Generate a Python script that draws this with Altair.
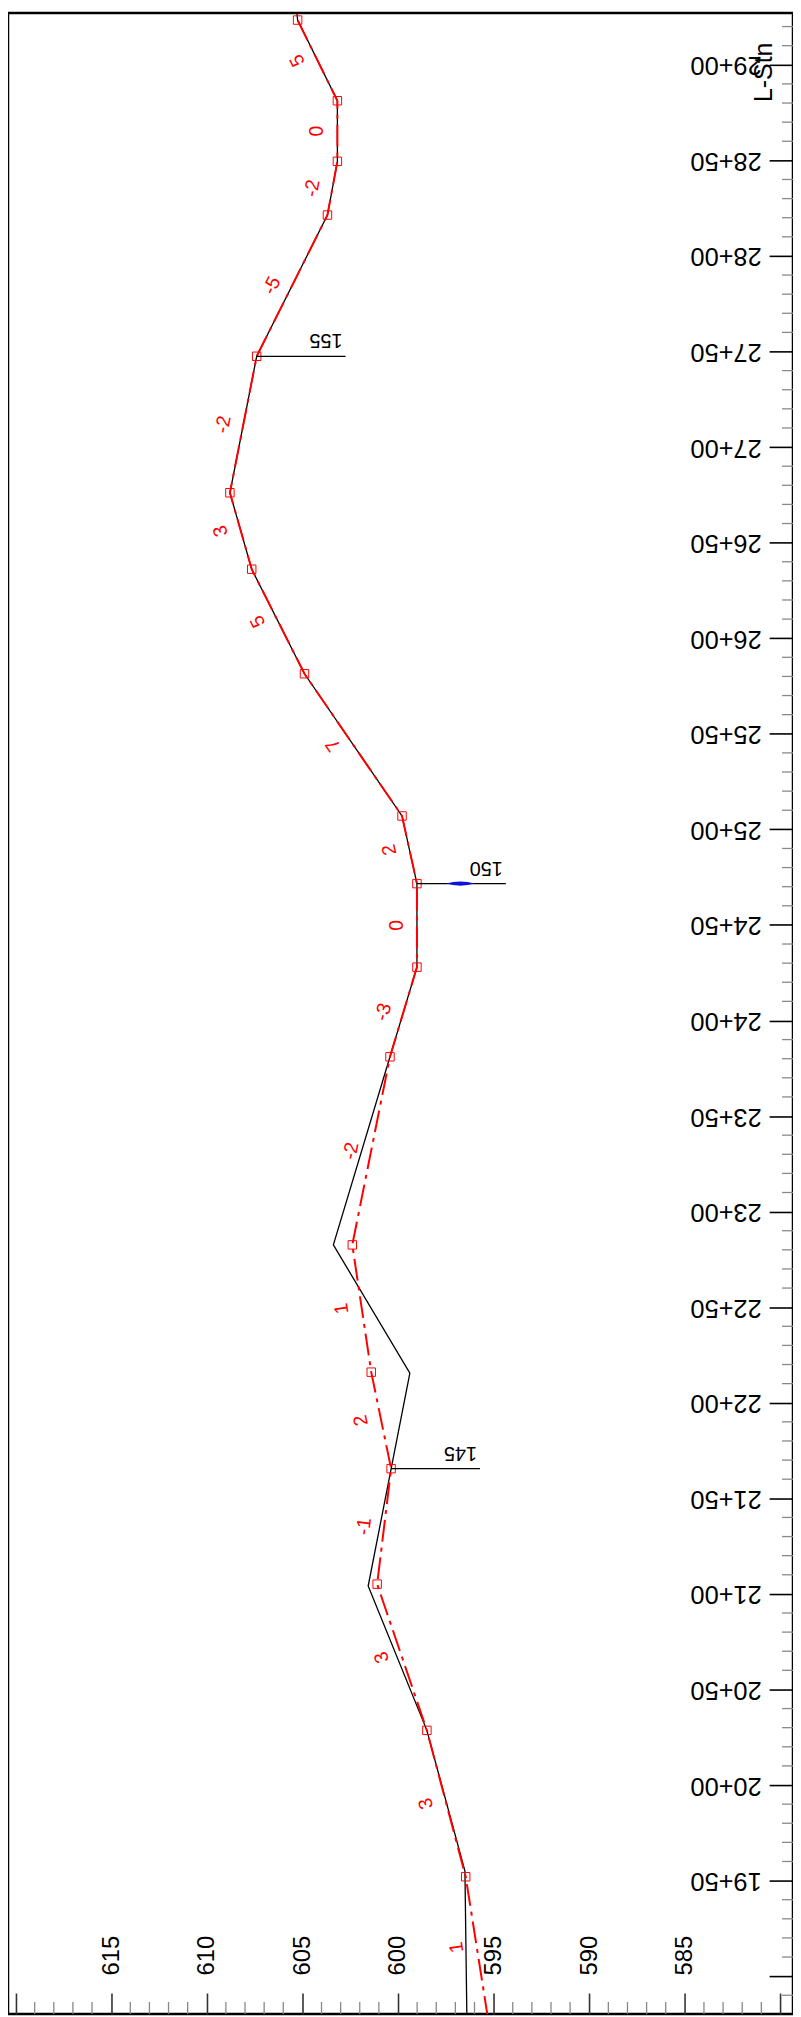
import math
import altair as alt
import pandas as pd

# ---------------- data ----------------
# proposed profile: PVI stations (ft) and elevations
prop_sta = [1878.2, 1952.0, 2028.6, 2105.1, 2165.5, 2216.0, 2282.6, 2381.0, 2427.9,
            2471.6, 2507.0, 2581.4, 2636.1, 2676.1, 2747.5, 2821.4, 2849.5, 2881.2, 2923.4]
prop_elev = [595.30, 596.46, 598.49, 601.09, 600.36, 601.40, 602.39, 600.42, 599.01,
             599.01, 599.79, 604.89, 607.65, 608.79, 607.39, 603.69, 603.17, 603.17, 605.25]
# grade labels for each segment (bottom to top)
grade_text = ["1", "3", "3", "-1", "2", "1", "-2", "-3", "0", "2", "7", "5", "3",
              "-2", "-5", "-2", "0", "5"]

# existing ground
ground_sta = [1879.7, 1955.0, 2028.6, 2104.1, 2215.5, 2282.6, 2381.0, 2427.9, 2471.6,
              2507.0, 2581.4, 2636.1, 2676.1, 2747.5, 2821.4, 2849.5, 2881.2, 2923.4, 2929.6]
ground_elev = [596.40, 596.50, 598.49, 601.56, 599.38, 603.38, 600.42, 599.01, 599.01,
               599.79, 604.89, 607.65, 608.79, 607.39, 603.69, 603.17, 603.17, 605.25, 605.31]

# station call-outs
ann_sta = [2165.5, 2471.6, 2747.5]
ann_elev = [600.36, 599.01, 607.39]
ann_text = ["145", "150", "155"]
ann_len = 4.65
blue_sta = [2471.6]
blue_elev = [596.74]

# axis ticks
sta_major = list(range(1900, 2901, 50))
sta_minor = [s for s in range(1890, 2921, 10) if s % 50]
elev_major = list(range(580, 621, 5))
elev_minor = [e for e in range(581, 620) if e % 5]

# ---------------- frame ----------------
W, H = 789, 2011
E_LEFT, E_RIGHT = 620.395, 579.344
S_BOT, S_TOP = 1880.25, 2927.05
PX_E = W / (E_LEFT - E_RIGHT)
PX_S = H / (S_TOP - S_BOT)
FONT = "Liberation Sans"
LABEL_OFF = 1.05  # grade labels sit this much "above" (left of) the line

xs = alt.Scale(domain=[E_RIGHT, E_LEFT], reverse=True, nice=False, zero=False)
ys = alt.Scale(domain=[S_BOT, S_TOP], nice=False, zero=False)

x_axis = alt.Axis(orient="bottom", values=elev_major, offset=-21, tickSize=21,
                  tickWidth=1.6, tickColor="#333333", domain=False, grid=False, title=None,
                  labelExpr="datum.value >= 620 || datum.value <= 580 ? '' : datum.label",
                  labelAngle=270, labelAlign="left", labelBaseline="middle",
                  labelPadding=-39, labelFontSize=24, labelFont=FONT, labelColor="black",
                  labelOverlap=False, labelFlush=False)
y_axis = alt.Axis(orient="right", values=sta_major, offset=-24, tickSize=24,
                  tickWidth=1.6, tickColor="black", domain=False, grid=False,
                  title="L-Stn", titleAngle=270, titleX=-6, titleY=59, titleAlign="center",
                  titleBaseline="middle", titleFontSize=25, titleFont=FONT,
                  titleFontWeight="normal", titleColor="black",
                  labelExpr="datum.value < 1950 ? '' : floor(datum.value/100) + '+' + "
                            "(datum.value % 100 < 10 ? '0' : '') + (datum.value % 100)",
                  labelAngle=180, labelAlign="left", labelBaseline="middle",
                  labelPadding=-32, labelFontSize=25.5, labelFont=FONT, labelColor="black",
                  labelOverlap=False, labelFlush=False)

prop_df = pd.DataFrame({"sta": prop_sta, "elev": prop_elev, "i": range(len(prop_sta))})
ground_df = pd.DataFrame({"sta": ground_sta, "elev": ground_elev, "i": range(len(ground_sta))})

rows = []
for k, t in enumerate(grade_text):
    s1, s2 = prop_sta[k], prop_sta[k + 1]
    e1, e2 = prop_elev[k], prop_elev[k + 1]
    ang = math.degrees(math.atan2(-(s2 - s1) * PX_S, -(e2 - e1) * PX_E)) % 360
    rows.append({"sta": (s1 + s2) / 2, "elev": (e1 + e2) / 2 + LABEL_OFF, "txt": t, "ang": ang})
grade_df = pd.DataFrame(rows)

ann_df = pd.DataFrame({"sta": ann_sta, "elev": ann_elev, "txt": ann_text})
ann_df["elev_end"] = ann_df["elev"] - ann_len
blue_df = pd.DataFrame({"sta": blue_sta, "elev": blue_elev})

elev_minor_df = pd.DataFrame({"elev": elev_minor})
elev_minor_df["s1"] = S_BOT
elev_minor_df["s2"] = S_BOT + 12 / PX_S
sta_minor_df = pd.DataFrame({"sta": sta_minor})
sta_minor_df["e1"] = E_RIGHT
sta_minor_df["e2"] = E_RIGHT + 11 / PX_E

# ---------------- layers ----------------
ground = alt.Chart(ground_df).mark_line(color="black", strokeWidth=1.3, clip=True).encode(
    x=alt.X("elev:Q", scale=xs, axis=x_axis),
    y=alt.Y("sta:Q", scale=ys, axis=y_axis),
    order="i:Q")

prop = alt.Chart(prop_df).mark_line(color="#ff0000", strokeWidth=2, strokeDash=[22, 6, 4, 6],
                                    clip=True).encode(
    x=alt.X("elev:Q", scale=xs), y=alt.Y("sta:Q", scale=ys), order="i:Q")

squares = alt.Chart(prop_df).transform_filter("datum.i > 0").mark_point(
    shape="square", filled=False, color="#ff0000", size=72, strokeWidth=1, opacity=1).encode(
    x=alt.X("elev:Q", scale=xs), y=alt.Y("sta:Q", scale=ys))

grades = alt.Chart(grade_df).mark_text(color="#ff0000", fontSize=19.5, font=FONT,
                                       align="center", baseline="middle", clip=True).encode(
    x=alt.X("elev:Q", scale=xs), y=alt.Y("sta:Q", scale=ys), text="txt:N",
    angle=alt.Angle("ang:Q", scale=None))

ann_lines = alt.Chart(ann_df).mark_rule(color="black", strokeWidth=1.3).encode(
    x=alt.X("elev:Q", scale=xs), x2="elev_end:Q", y=alt.Y("sta:Q", scale=ys))

ann_labels = alt.Chart(ann_df).mark_text(color="black", fontSize=20, font=FONT, angle=180,
                                         align="left", baseline="top", dx=3, dy=6).encode(
    x=alt.X("elev_end:Q", scale=xs), y=alt.Y("sta:Q", scale=ys), text="txt:N")

blue = alt.Chart(blue_df).mark_point(
    shape="M -1 0 Q 0 -0.3 1 0 Q 0 0.3 -1 0 Z", filled=True, color="#1010dd",
    size=841, opacity=1).encode(x=alt.X("elev:Q", scale=xs), y=alt.Y("sta:Q", scale=ys))

elev_minor_ticks = alt.Chart(elev_minor_df).mark_rule(color="#888888", strokeWidth=1.3).encode(
    x=alt.X("elev:Q", scale=xs), y=alt.Y("s1:Q", scale=ys), y2="s2:Q")

sta_minor_ticks = alt.Chart(sta_minor_df).mark_rule(color="#888888", strokeWidth=1.3).encode(
    y=alt.Y("sta:Q", scale=ys), x=alt.X("e1:Q", scale=xs), x2="e2:Q")

chart = alt.layer(ground, prop, squares, grades, ann_lines, ann_labels, blue,
                  elev_minor_ticks, sta_minor_ticks).properties(
    width=W, height=H, padding=0, autosize=alt.AutoSizeParams(type="none"),
    background="white"
).configure_view(stroke="black", strokeWidth=2.5)

chart.save("out.html", embed_options={"renderer": "svg", "actions": False})
